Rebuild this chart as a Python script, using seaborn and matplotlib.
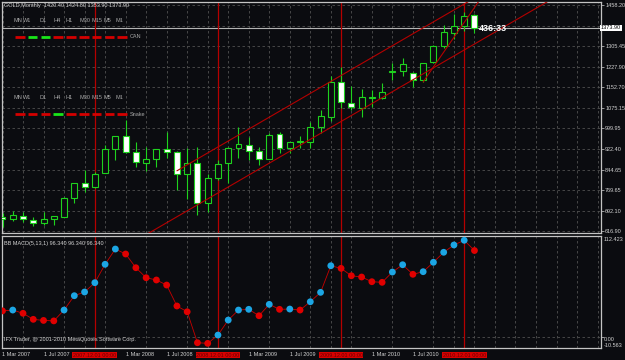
import numpy as np
import pandas as pd
import matplotlib
matplotlib.use('Agg')
import matplotlib.pyplot as plt
import seaborn as sns

# GOLD monthly bars, Mar 2007 .. Jan 2011
months = pd.date_range('2007-03-01', periods=47, freq='MS')
opens = [669, 663, 674, 659, 646, 661, 670, 741, 794, 780,
         834, 921, 970, 912, 872, 884, 921, 911, 831, 869,
         722, 815, 869, 925, 935, 915, 886, 977, 925, 947,
         950, 1005, 1040, 1173, 1092, 1077, 1111, 1111, 1209, 1213,
         1206, 1179, 1245, 1307, 1356, 1381, 1420.40]
highs = [684, 690, 689, 670, 689, 673, 743, 796, 844, 835,
         937, 972, 1030, 949, 930, 922, 987, 914, 926, 931,
         829, 880, 930, 1005, 968, 931, 980, 987, 950, 970,
         1024, 1067, 1194, 1226, 1157, 1144, 1141, 1167, 1243, 1260,
         1210, 1244, 1310, 1384, 1425, 1431, 1424.80]
lows = [632, 653, 651, 636, 639, 639, 669, 720, 763, 778,
        832, 881, 906, 856, 841, 854, 890, 769, 735, 676,
        689, 805, 795, 887, 881, 862, 884, 908, 908, 927,
        925, 983, 1028, 1075, 1067, 1040, 1080, 1108, 1179, 1194,
        1152, 1170, 1242, 1300, 1330, 1360, 1353.90]
closes = [662, 675, 661, 648, 662, 672, 741, 794, 780, 828,
          921, 970, 912, 874, 884, 921, 910, 828, 869, 722,
          813, 865, 925, 940, 915, 886, 974, 925, 947, 952,
          1003, 1045, 1173, 1098, 1080, 1115, 1115, 1133, 1213, 1238,
          1179, 1241, 1306, 1356, 1381, 1417, 1373.90]

# BB MACD(5,13,1) value per bar
macd = [29.5, 30.4, 26.8, 20.1, 18.9, 18.4, 30.4, 46.3, 50.4, 60.7,
        81.1, 98.0, 92.5, 77.3, 66.2, 63.7, 58.1, 34.9, 28.5, -5.8,
        -6.5, 2.7, 19.3, 30.4, 31.2, 24.1, 36.7, 31.2, 31.5, 30.4,
        39.6, 50.0, 79.5, 76.6, 68.4, 67.0, 61.8, 61.1, 72.5, 80.6,
        70.0, 72.9, 83.3, 94.4, 102.5, 107.7, 96.34]

price_ticks = [1458.20, 1381.80, 1305.45, 1227.90, 1152.70, 1075.15,
               999.95, 922.40, 844.65, 769.65, 692.10, 616.90]
price_labels = ['1458.20', '', '1305.45', '1227.90', '1152.70', '1075.15',
                '999.95', '922.40', '844.65', '769.65', '692.10', '616.90']
date_ticks = ['2007-03', '2007-07', '2008-03', '2008-07',
              '2009-03', '2009-07', '2010-03', '2010-07']
date_labels = ['1 Mar 2007', '1 Jul 2007', '1 Mar 2008', '1 Jul 2008',
               '1 Mar 2009', '1 Jul 2009', '1 Mar 2010', '1 Jul 2010']
vline_months = ['2007-12', '2008-12', '2009-12', '2010-12']

# trend lines: (month, price) anchors
upper_line = [('2008-08', 841), ('2011-06', 1595)]
lower_line = [('2008-03', 559), ('2012-01', 1579)]
steep_line = [('2010-08', 1172), ('2011-02', 1504)]

# indicator status lamps on the chart
can_lamps = ['r', 'g', 'g', 'r', 'r', 'r', 'r', 'r', 'r']
snake_lamps = ['r', 'r', 'r', 'g', 'r', 'r', 'r', 'r', 'r']
timeframes = ['MN', 'W1', 'D1', 'H4', 'H1', 'M30', 'M15', 'M5', 'M1']

last_bid = 1373.90


def month_index(s):
    t = pd.Timestamp(s + '-01')
    return (t.year - 2007) * 12 + t.month - 3


sns.set_style('dark')
plt.rcParams['font.family'] = ['Liberation Sans', 'DejaVu Sans']

BG = '#0b0c10'
FRAME = '#c4c4c4'
GRID = '#505050'
TXT = '#d2d2d2'
LIME = '#1ed21e'
DARKRED = '#b40000'

W, H = 625, 360
fig = plt.figure(figsize=(6.25, 3.6), dpi=100, facecolor=BG)

ax = fig.add_axes([2 / W, 1 - 233 / H, 599 / W, 231 / H], facecolor=BG)
ax2 = fig.add_axes([2 / W, 1 - 347.5 / H, 599 / W, 112 / H], facecolor=BG)

x_left = (2 - 2.5) / 10.26
x_right = (601 - 2.5) / 10.26

# ---- main price panel ----
idx = np.arange(len(months))
o = np.array(opens); c = np.array(closes)
ax.vlines(idx, lows, highs, color=LIME, lw=0.8, zorder=3)
bear = c < o
ax.bar(idx, np.abs(c - o) + 0.8, bottom=np.minimum(o, c) - 0.4, width=0.58,
       color=np.where(bear, 'white', BG), edgecolor=LIME, linewidth=0.8, zorder=4)

for ln in (upper_line, lower_line, steep_line):
    xs = [month_index(p[0]) for p in ln]
    ys = [p[1] for p in ln]
    ax.plot(xs, ys, color=DARKRED, lw=0.8, zorder=5)

ax.axhline(last_bid, color='#b4b4b4', lw=0.8, zorder=2)

ax.set_xlim(x_left, x_right)
ax.set_ylim(609.5, 1469.4)
ax.set_yticks(price_ticks)
ax.set_yticklabels(price_labels)
ax.yaxis.tick_right()
ax.tick_params(axis='y', length=2, width=0.5, colors=TXT, labelsize=4, pad=1)
ax.set_xticks(np.arange(0, 60, 2))
ax.tick_params(axis='x', length=0, labelbottom=False)
ax.grid(True, color=GRID, lw=0.6, linestyle=(0, (3, 3)))
ax.text(1.0, last_bid, '1373.90', transform=ax.get_yaxis_transform(),
        ha='left', va='center', fontsize=4, color='black',
        bbox=dict(boxstyle='square,pad=0.1', fc='white', ec='none'), clip_on=False)
ax.text(month_index('2011-01') + 0.4, 1370, '436:33', fontsize=6.5,
        fontweight='bold', color='white', ha='left', va='center', zorder=6)

# ---- BB MACD panel ----
dirs = ['down'] + ['up' if d > 0 else 'down' for d in np.diff(macd)]
df = pd.DataFrame({'i': idx, 'macd': macd, 'dir': dirs})
sns.lineplot(data=df, x='i', y='macd', color='#c80000', lw=0.6, ax=ax2, zorder=3)
sns.scatterplot(data=df, x='i', y='macd', hue='dir',
                palette={'up': '#1ca6e4', 'down': '#e00000'},
                s=24, linewidth=0, legend=False, ax=ax2, zorder=4)
ax2.set_xlim(x_left, x_right)
ax2.set_ylim(-11.1, 113.0)
ax2.set_xlabel('')
ax2.set_ylabel('')
ax2.set_xticks(np.arange(0, 60, 2), minor=True)
ax2.set_xticks([month_index(m) for m in date_ticks])
ax2.set_xticklabels(date_labels, ha='left')
ax2.tick_params(axis='x', which='major', length=2, width=0.5, colors=TXT,
                labelsize=4, pad=1.5)
ax2.tick_params(axis='x', which='minor', length=0)
ax2.set_yticks([0])
ax2.set_yticklabels([''])
ax2.yaxis.tick_right()
ax2.tick_params(axis='y', length=2, width=0.5, colors=TXT)
ax2.grid(True, which='minor', axis='x', color=GRID, lw=0.6, linestyle=(0, (3, 3)))
ax2.grid(True, which='major', axis='y', color=GRID, lw=0.6, linestyle=(0, (3, 3)))
ax2.grid(False, which='major', axis='x')
for m in vline_months:
    ax2.text(month_index(m), -0.045, pd.Timestamp(m + '-01').strftime('%Y.%m.%d 00:00'),
             transform=ax2.get_xaxis_transform(), ha='center', va='top',
             fontsize=4, color='#6a0000', clip_on=False,
             bbox=dict(boxstyle='square,pad=0.15', fc='#d80000', ec='none'))
ax2.text(1.004, 0.985, '112.423', transform=ax2.transAxes, fontsize=4,
         color=TXT, ha='left', va='top')
ax2.text(1.004, 0.07, '0.00', transform=ax2.transAxes, fontsize=4,
         color=TXT, ha='left', va='center')
ax2.text(1.004, 0.015, '-10.563', transform=ax2.transAxes, fontsize=4,
         color=TXT, ha='left', va='center')
ax2.text(0.004, 0.93, 'BB MACD(5,13,1) 96.340 96.340 96.340', transform=ax2.transAxes,
         fontsize=4, color=TXT, ha='left', va='center')
ax2.text(0.004, 0.07, 'IFX Trader, @ 2001-2010 MetaQuotes Software Corp.',
         transform=ax2.transAxes, fontsize=4, color=TXT, ha='left', va='center')

for a in (ax, ax2):
    for m in vline_months:
        a.axvline(month_index(m), color=DARKRED, lw=0.9, zorder=2)
    for s in a.spines.values():
        s.set_color(FRAME)
        s.set_linewidth(0.9)

# ---- overlay texts / lamps in pixel space ----
ov = fig.add_axes([0, 0, 1, 1], zorder=10)
ov.set_xlim(0, W)
ov.set_ylim(H, 0)
ov.axis('off')
ov.patch.set_alpha(0)
ov.text(3.5, 6, 'GOLD,Monthly  1420.40 1424.80 1353.90 1373.90', fontsize=4,
        color=TXT, ha='left', va='center')
tf_x = [14, 23, 40, 53, 66, 79, 92, 104, 116]
lamp_col = {'r': '#d40000', 'g': '#19e619'}
for row_y, lamps, name in ((20.5, can_lamps, 'CAN'), (97.5, snake_lamps, 'Snake')):
    for tx, tf in zip(tf_x, timeframes):
        ov.text(tx, row_y, tf, fontsize=4, color='#a8a8a8', ha='left', va='center')
    for k, st in enumerate(lamps):
        x0 = 15 + k * 12.8
        ov.plot([x0, x0 + 9.5], [row_y + 16.5, row_y + 16.5], color=lamp_col[st],
                lw=2.0, solid_capstyle='butt')
    ov.text(130, row_y + 16.5, name, fontsize=4, color='#a8a8a8', ha='left', va='center')

fig.savefig('out.png', dpi=100, facecolor=BG)
